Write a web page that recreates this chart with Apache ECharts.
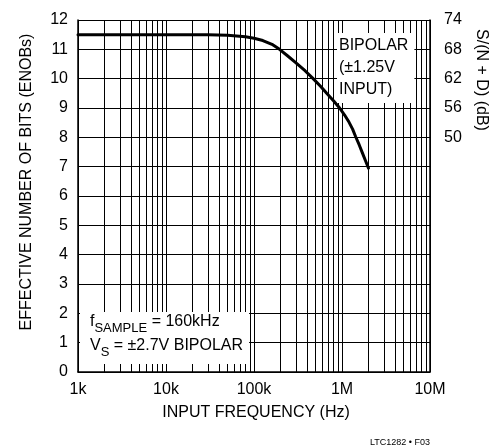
<!DOCTYPE html>
<html><head><meta charset="utf-8">
<script src="https://cdn.jsdelivr.net/npm/echarts@6/dist/echarts.min.js"></script>
<style>html,body{margin:0;padding:0;background:#fff}#c{width:496px;height:447px}</style>
</head><body><div id="c"></div>
<script>
// Data
const freqHz = [1000, 10000, 30000, 50000, 80000, 100000, 126000, 160000, 195000, 240000, 300000, 380000, 470000, 570000, 670000, 800000, 940000, 1070000, 1200000, 1320000, 1430000, 1570000, 1700000, 1850000, 2000000];
const enob   = [11.5, 11.5, 11.5, 11.48, 11.43, 11.38, 11.3, 11.17, 11.0, 10.78, 10.54, 10.27, 10.0, 9.74, 9.5, 9.25, 9.0, 8.76, 8.52, 8.28, 8.02, 7.74, 7.48, 7.2, 6.95];
const xTickLabels = {1000:'1k', 10000:'10k', 100000:'100k', 1000000:'1M', 10000000:'10M'};
const rightTickLabels = {12:'74', 11:'68', 10:'62', 9:'56', 8:'50'};
const minorMultipliers = [2,3,4,5,6,7,8,9];
const decades = [1000, 10000, 100000, 1000000];

const FONT = '"Liberation Sans Narrow", "Arial Narrow", "Liberation Sans", Arial, sans-serif';
const minorLines = [];
decades.forEach(d => minorMultipliers.forEach(m => minorLines.push({xAxis: d*m})));

const chart = echarts.init(document.getElementById('c'));
chart.setOption({
  animation: false,
  grid: {left: 78, right: 66, top: 20, bottom: 75},
  xAxis: {
    type: 'log', logBase: 10, min: 1000, max: 10000000,
    axisLine: {show: true, lineStyle: {color: '#000', width: 1.5}},
    axisTick: {show: false},
    axisLabel: {color: '#000', fontFamily: FONT, fontSize: 16, margin: 10,
      formatter: v => xTickLabels[Math.round(v)] || ''},
    splitLine: {show: true, lineStyle: {color: '#000', width: 1}}
  },
  yAxis: [{
    type: 'value', min: 0, max: 12, interval: 1,
    axisLine: {show: true, lineStyle: {color: '#000', width: 1.5}},
    axisTick: {show: false},
    axisLabel: {color: '#000', fontFamily: FONT, fontSize: 16, margin: 10},
    splitLine: {show: true, lineStyle: {color: '#000', width: 1}}
  }, {
    type: 'value', min: 0, max: 12, interval: 1, position: 'right',
    axisLine: {show: true, lineStyle: {color: '#000', width: 1.5}},
    axisTick: {show: false},
    axisLabel: {color: '#000', fontFamily: FONT, fontSize: 16, margin: 14,
      formatter: v => rightTickLabels[v] || ''},
    splitLine: {show: false}
  }],
  series: [{
    type: 'line', data: freqHz.map((f,i)=>[f, enob[i]]),
    smooth: false, symbol: 'none',
    lineStyle: {color: '#000', width: 3, cap: 'round', join: 'round'},
    z: 5,
    markLine: {
      silent: true, symbol: 'none', label: {show: false},
      lineStyle: {color: '#000', width: 1, type: 'solid'},
      data: minorLines, z: 1
    }
  }],
  graphic: [
    {type: 'text', z: 100, x: 337, y: 33,
      style: {text: 'BIPOLAR\n(±1.25V\nINPUT)', font: '16px ' + FONT, fill: '#000',
        lineHeight: 22, backgroundColor: '#fff', padding: [2, 6, 2, 2]}},
    {type: 'text', z: 100, x: 80, y: 312,
      style: {
        text: '{n|f}{s|SAMPLE}{n| = 160kHz}\n{n|V}{s|S}{n| = ±2.7V BIPOLAR}',
        backgroundColor: '#fff', padding: [2, 6, 2, 10],
        rich: {
          n: {font: '16px ' + FONT, fill: '#000', lineHeight: 24, verticalAlign: 'top'},
          s: {font: '13px ' + FONT, fill: '#000', lineHeight: 24, padding: [8,0,0,0], verticalAlign: 'top'}
        }
      }},
    {type: 'text', z: 100, x: 27, y: 182, rotation: Math.PI/2,
      style: {text: 'EFFECTIVE NUMBER OF BITS (ENOBs)', font: '16px ' + FONT, fill: '#000',
        align: 'center', verticalAlign: 'middle'}},
    {type: 'text', z: 100, x: 481, y: 80, rotation: -Math.PI/2,
      style: {text: 'S/(N + D) (dB)', font: '16px ' + FONT, fill: '#000',
        align: 'center', verticalAlign: 'middle'}},
    {type: 'text', z: 100, x: 256, y: 413,
      style: {text: 'INPUT FREQUENCY (Hz)', font: '16px ' + FONT, fill: '#000',
        align: 'center', verticalAlign: 'middle'}},
    {type: 'text', z: 100, x: 400, y: 443,
      style: {text: 'LTC1282 • F03', font: '9px ' + FONT, fill: '#000',
        align: 'center', verticalAlign: 'middle'}}
  ]
});
</script></body></html>
